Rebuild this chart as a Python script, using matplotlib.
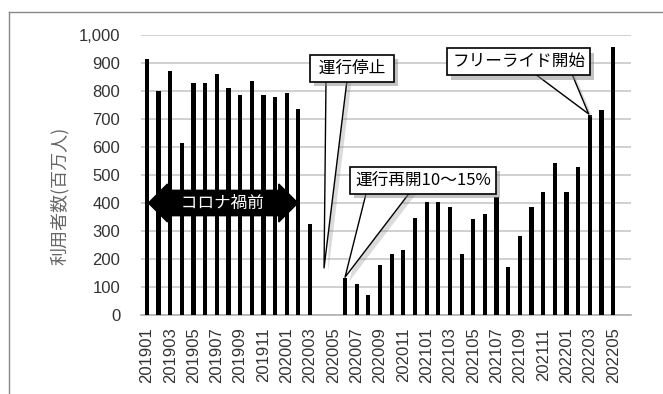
"""
Monthly users (million), 2019-01 .. 2022-05, with callout annotations.
"""
import matplotlib
matplotlib.use("Agg")
import matplotlib.pyplot as plt
import matplotlib.patheffects as pe
from matplotlib.lines import Line2D
from matplotlib.ticker import FuncFormatter

plt.rcParams['font.family'] = ['Liberation Sans', 'Noto Sans CJK JP', 'DejaVu Sans']
JP = ['Noto Sans CJK JP', 'DejaVu Sans']

# months 201901 .. 202205
months = ([f"2019{m:02d}" for m in range(1, 13)]
          + [f"2020{m:02d}" for m in range(1, 13)]
          + [f"2021{m:02d}" for m in range(1, 13)]
          + [f"2022{m:02d}" for m in range(1, 6)])

# users, million
users = [913, 800, 873, 615, 830, 830, 860, 811, 785, 837, 785, 777,   # 2019
         793, 737, 325, 0, 0, 131, 111, 70, 177, 218, 233, 348,        # 2020
         402, 402, 387, 218, 343, 362, 420, 170, 281, 387, 438, 542,   # 2021
         438, 527, 714, 731, 958]                                      # 2022

tick_labels = months[::2]
ylabel = "利用者数(百万人)"

fig = plt.figure(figsize=(6.63, 3.94), dpi=100)
ax = fig.add_axes([0.2127, 0.2005, 0.7385, 0.7107])

x = list(range(len(months)))
ax.bar(x, users, width=0.36, color="black", zorder=3)

ax.set_xlim(-0.5, len(months) + 0.5)
ax.set_ylim(0, 1000)
ax.set_yticks(range(0, 1001, 100))
ax.yaxis.set_major_formatter(FuncFormatter(lambda v, p: f"{int(v):,}"))
ax.set_xticks(x[::2])
ax.set_xticklabels(tick_labels, rotation=90, fontsize=12, color="#333333")
ax.tick_params(axis="y", length=0, pad=15, labelsize=12, labelcolor="#333333")
ax.tick_params(axis="x", length=0, pad=9)

ax.grid(axis="y", color="#c8c8c8", lw=1.2, zorder=0)
for s in ["top", "right", "left"]:
    ax.spines[s].set_visible(False)
ax.spines["bottom"].set_color("#b0b0b0")
ax.spines["bottom"].set_linewidth(1.2)

ax.set_ylabel(ylabel, family=JP, fontsize=13, color="#666666")
ax.yaxis.set_label_coords(-0.148, 0.425)

# outer frame (left and top edges only)
fig.add_artist(Line2D([9 / 663, 9 / 663], [0, 1 - 12 / 394], color="#888888", lw=1.0))
fig.add_artist(Line2D([9 / 663, 1], [1 - 12 / 394, 1 - 12 / 394], color="#888888", lw=1.0))

# "before covid" double arrow
ax.text(6.5, 400, "     コロナ禍前     ", family=JP, fontsize=12, color="white",
        ha="center", va="center", zorder=5,
        bbox=dict(boxstyle="darrow,pad=0.25", fc="black", ec="black"))


def shadow(alpha):
    return [pe.SimplePatchShadow(offset=(3, -3), shadow_rgbFace="#888888", alpha=alpha),
            pe.Normal()]


def callout(text, tip, pos, relx, tail):
    # wedge starts mid-box, so the box hides its base
    ann = ax.annotate(text, xy=tip, xytext=pos, family=JP, fontsize=12,
                      ha="center", va="center", zorder=6,
                      bbox=dict(boxstyle="square,pad=0.3", fc="white", ec="black", lw=1.2),
                      arrowprops=dict(arrowstyle=f"wedge,tail_width={tail},shrink_factor=0.5",
                                      fc="white", ec="black", lw=1.0, mutation_scale=1,
                                      relpos=(relx, 0.5), patchA=None,
                                      shrinkA=0, shrinkB=0))
    ann.get_bbox_patch().set_path_effects(shadow(0.5))
    ann.arrow_patch.set_path_effects(shadow(0.3))


callout(" 運行停止 ", (15.2, 168), (17.6, 880), 0.3, 16)
callout("運行再開10～15%", (17.0, 135), (23.7, 482), 0.27, 32)
callout("フリーライド開始", (37.9, 718), (31.9, 904), 0.72, 26)

fig.savefig("out.png", dpi=100)
